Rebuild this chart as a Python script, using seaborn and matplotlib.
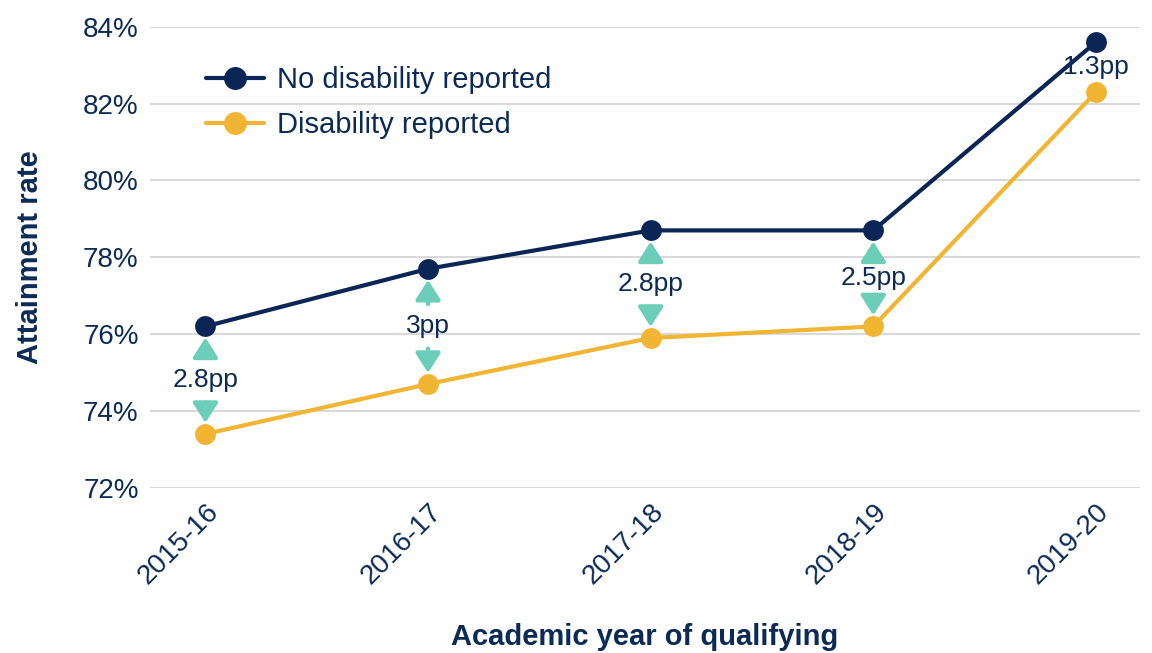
import pandas as pd
import matplotlib.pyplot as plt
import seaborn as sns
from matplotlib.ticker import FuncFormatter

# Dados
anos = ['2015-16', '2016-17', '2017-18', '2018-19', '2019-20']
sem_deficiencia = [76.2, 77.7, 78.7, 78.7, 83.6]
com_deficiencia = [73.4, 74.7, 75.9, 76.2, 82.3]
diferencas = ['2.8pp', '3pp', '2.8pp', '2.5pp', '1.3pp']

df = pd.DataFrame({
    'ano': anos * 2,
    'taxa': sem_deficiencia + com_deficiencia,
    'grupo': ['No disability reported'] * 5 + ['Disability reported'] * 5,
})

navy = '#0B2556'
gold = '#F2B533'
teal = '#6CCDB9'
texto = '#0B2A55'

sns.set_style('white')
plt.rcParams['font.family'] = ['Liberation Sans', 'DejaVu Sans']

fig = plt.figure(figsize=(11.52, 6.53), dpi=100)
ax = fig.add_axes([0.13, 0.253, 0.86, 0.706])

sns.lineplot(data=df, x='ano', y='taxa', hue='grupo', palette=[navy, gold],
             marker='o', markersize=15, markeredgewidth=0, linewidth=3,
             ax=ax, clip_on=False, zorder=3)

# Setas e rótulos das diferenças
for i, (a, b, lab) in enumerate(zip(sem_deficiencia, com_deficiencia, diferencas)):
    meio = (a + b) / 2
    ax.text(i, meio, lab, ha='center', va='center', fontsize=19, color=texto, zorder=4)
    if i == len(anos) - 1:
        continue
    estilo = dict(arrowstyle='-|>,head_length=0.6,head_width=0.38', color=teal,
                  lw=3, mutation_scale=20)
    ax.annotate('', xy=(i, a), xytext=(i, meio),
                arrowprops=dict(shrinkA=16, shrinkB=8, **estilo))
    ax.annotate('', xy=(i, b), xytext=(i, meio),
                arrowprops=dict(shrinkA=16, shrinkB=8, **estilo))

ax.set_ylim(72, 84)
ax.set_xlim(-0.25, 4.2)
ax.set_yticks([72, 74, 76, 78, 80, 82, 84])
ax.yaxis.set_major_formatter(FuncFormatter(lambda v, p: f'{v:.0f}%'))
ax.grid(axis='y', color='#D9D9D9', linewidth=1.5)
ax.set_axisbelow(True)
sns.despine(ax=ax, left=True, bottom=True, top=True, right=True)

ax.tick_params(axis='y', colors='#D0D0D0', length=6, width=1.5, labelsize=20, labelcolor=texto, pad=2)
ax.tick_params(axis='x', length=0, labelsize=20, labelcolor=texto, pad=8)
plt.setp(ax.get_xticklabels(), rotation=45, ha='right', rotation_mode='anchor')

ax.set_xlabel('Academic year of qualifying', fontsize=21, fontweight='bold', color=texto, labelpad=24)
ax.set_ylabel('Attainment rate', fontsize=21, fontweight='bold', color=texto, labelpad=28)

leg = ax.legend(loc='upper left', bbox_to_anchor=(0.03, 0.972), frameon=False,
                fontsize=21, handlelength=2.0, handletextpad=0.45,
                labelspacing=0.6, markerscale=1.1)
for t in leg.get_texts():
    t.set_color(texto)

fig.savefig('out.png', dpi=100)
